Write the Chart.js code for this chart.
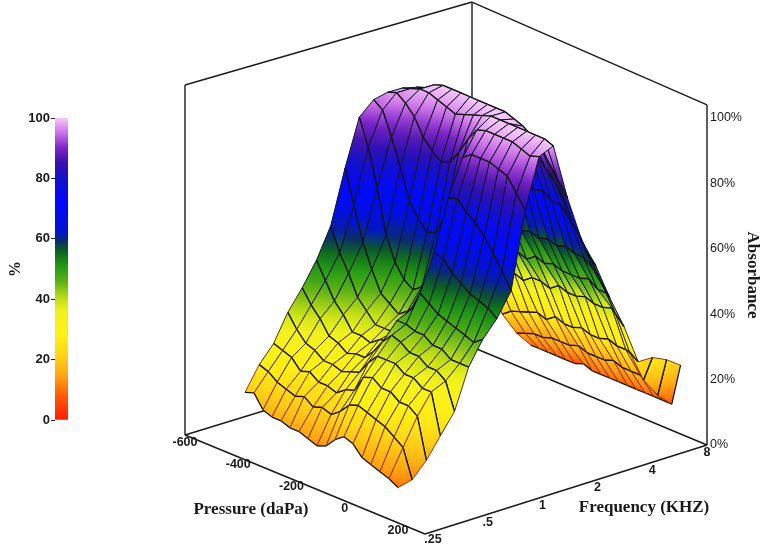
<!DOCTYPE html>
<html>
<head>
<meta charset="utf-8">
<style>
  body { margin: 0; background: #fff; }
  canvas { position: absolute; left: 0; top: 0; }
</style>
<script src="https://cdn.jsdelivr.net/npm/chart.js@4"></script>
</head>
<body>
<canvas id="surface" width="765" height="554"></canvas>
<canvas id="colorbar" width="90" height="554"></canvas>
<script>
// values
const pressureValues = [-400, -370, -340, -310, -280, -250, -220, -190, -160, -130, -100, -70, -40, -10, 20, 50, 80, 110];
const frequencyValues = [0.25, 0.297, 0.354, 0.42, 0.5, 0.595, 0.707, 0.841, 1, 1.19, 1.41, 1.68, 2, 2.38, 2.83, 3.36, 4, 4.76, 5.66, 6.73, 8];
// one row per pressure, one value per frequency (% absorbance)
const absorbanceRows = [
  [20, 27, 32, 40, 46, 53, 62, 78, 92, 96, 97, 97, 96, 92, 80, 62, 46, 32, 20, 13, 8],
  [21, 26, 31, 36, 42, 48, 55, 68, 84, 94, 98, 98, 97, 93, 78, 60, 47, 34, 22, 14, 8],
  [17, 24, 30, 33, 39, 43, 50, 58, 73, 87, 96, 99, 99, 93, 76, 58, 48, 35, 23, 15, 8],
  [16, 23, 27, 32, 35, 40, 44, 51, 60, 79, 93, 99, 100, 93, 75, 59, 47, 37, 24, 15, 8],
  [16, 22, 28, 30, 34, 36, 41, 45, 53, 70, 88, 98, 100, 92, 74, 58, 48, 36, 25, 16, 8],
  [15, 23, 26, 30, 32, 36, 38, 43, 49, 66, 85, 97, 100, 92, 75, 57, 47, 38, 24, 16, 8],
  [15, 21, 26, 29, 33, 35, 38, 41, 47, 63, 83, 96, 100, 92, 74, 58, 46, 38, 26, 16, 9],
  [14, 22, 25, 30, 33, 37, 38, 43, 49, 64, 84, 97, 100, 93, 75, 57, 48, 37, 25, 17, 8],
  [13, 21, 27, 31, 36, 38, 42, 46, 54, 70, 88, 98, 100, 92, 74, 58, 47, 39, 25, 16, 8],
  [14, 23, 28, 35, 40, 45, 47, 53, 63, 78, 93, 99, 100, 92, 75, 57, 48, 38, 26, 16, 8],
  [17, 26, 33, 38, 43, 45, 53, 64, 79, 90, 97, 100, 100, 91, 74, 58, 47, 38, 25, 16, 8],
  [19, 27, 34, 38, 42, 44, 51, 63, 80, 92, 98, 100, 99, 90, 75, 57, 47, 39, 25, 17, 8],
  [18, 26, 32, 38, 40, 44, 49, 60, 77, 92, 98, 100, 98, 88, 73, 58, 47, 38, 26, 16, 8],
  [15, 25, 32, 36, 40, 42, 48, 58, 75, 92, 98, 100, 96, 85, 73, 57, 48, 38, 25, 16, 8],
  [14, 24, 30, 36, 38, 42, 47, 56, 72, 91, 98, 100, 94, 82, 70, 57, 46, 39, 25, 16, 8],
  [13, 22, 30, 34, 38, 40, 46, 55, 68, 90, 97, 100, 90, 78, 67, 55, 46, 36, 24, 15, 8],
  [12, 20, 28, 34, 36, 40, 45, 54, 64, 86, 96, 100, 86, 72, 62, 52, 41, 28, 18, 12, 8],
  [10.5, 11.5, 16, 22, 28, 40, 47, 52, 59, 82, 97, 99, 82, 68, 59, 48, 38, 26, 26, 24, 21]
];
const pressureTicks = [-600, -400, -200, 0, 200];
const frequencyTicks = [0.25, 0.5, 1, 2, 4, 8];
const frequencyTickLabels = ['.25', '.5', '1', '2', '4', '8'];
const absorbanceTicks = [0, 20, 40, 60, 80, 100];
const colorbarRange = [0, 100];
const colorLevels = [0, 8, 15, 22, 28, 36, 40, 46, 51, 56, 59, 62, 72, 80, 85, 90, 95, 100];
const colorValues = ['#ff1e00', '#ff5a08', '#ffa812', '#ffd818', '#fff014', '#f2f21e', '#c4e018', '#58b014', '#229a14', '#0a6020', '#0a3060', '#0414c8', '#0008ff', '#1410c8', '#3a10a8', '#7a22c8', '#cc70e8', '#f6c8f8'];

// box corners on the page: floor position and px per % of height
const FRONT = { x: 425, y: 534, h: 3.36 };
const LEFT = { x: 185, y: 435, h: 3.365 };
const RIGHT = { x: 707, y: 445, h: 3.27 };
const BACK = { x: 472, y: 347, h: 3.317 };
const BOX_TOP = 104;

function project(p, f, z) {
  const u = (200 - p) / 800;
  const t = Math.log2(f / 0.25) / 5;
  const mix = k => (1 - u) * (1 - t) * FRONT[k] + u * (1 - t) * LEFT[k] + (1 - u) * t * RIGHT[k] + u * t * BACK[k];
  return { x: mix('x'), y: mix('y') - mix('h') * z };
}

function colorAt(z) {
  let i = 0;
  while (i < colorLevels.length - 2 && z > colorLevels[i + 1]) i++;
  const k = Math.min(1, Math.max(0, (z - colorLevels[i]) / (colorLevels[i + 1] - colorLevels[i])));
  const a = colorValues[i], b = colorValues[i + 1];
  const ch = (s, n) => parseInt(s.substr(1 + n * 2, 2), 16);
  const c = [0, 1, 2].map(n => Math.round(ch(a, n) + (ch(b, n) - ch(a, n)) * k));
  return `rgb(${c[0]},${c[1]},${c[2]})`;
}

function gradientFor(chart, from, to) {
  // from / to: {pt, z}, lowest and highest corner of the cell
  const { x, y } = chart.scales;
  const g = chart.ctx.createLinearGradient(
    x.getPixelForValue(from.pt.x), y.getPixelForValue(from.pt.y),
    x.getPixelForValue(to.pt.x), y.getPixelForValue(to.pt.y));
  for (let k = 0; k <= 4; k++) g.addColorStop(k / 4, colorAt(from.z + (to.z - from.z) * k / 4));
  return g;
}

const layers = [];

function boxLine(a, b, width) {
  layers.push({ data: [a, b], borderColor: '#1c1c1c', borderWidth: width, fill: false });
}

const fMin = frequencyTicks[0], fMax = frequencyTicks[frequencyTicks.length - 1];
const pMin = pressureTicks[0], pMax = pressureTicks[pressureTicks.length - 1];

// far side of the box goes under the surface
boxLine(project(pMin, fMin, 0), project(pMin, fMin, BOX_TOP), 1.4);
boxLine(project(pMin, fMax, 0), project(pMin, fMax, BOX_TOP), 1.4);
boxLine(project(pMax, fMax, 0), project(pMax, fMax, BOX_TOP), 1.4);
boxLine(project(pMin, fMin, BOX_TOP), project(pMin, fMax, BOX_TOP), 1.4);
boxLine(project(pMin, fMax, BOX_TOP), project(pMax, fMax, BOX_TOP), 1.4);
boxLine(project(pMin, fMin, 0), project(pMin, fMax, 0), 1.4);
boxLine(project(pMin, fMax, 0), project(pMax, fMax, 0), 1.4);

// surface cells, far to near
for (let i = 0; i < pressureValues.length - 1; i++) {
  for (let j = frequencyValues.length - 2; j >= 0; j--) {
    const corners = [[i, j], [i + 1, j], [i + 1, j + 1], [i, j + 1]].map(([a, b]) => ({
      pt: project(pressureValues[a], frequencyValues[b], absorbanceRows[a][b]),
      z: absorbanceRows[a][b]
    }));
    const pts = corners.map(c => c.pt);
    const sorted = corners.slice().sort((a, b) => a.z - b.z);
    const low = sorted[0], high = sorted[3];
    layers.push({
      data: pts.concat([pts[0]]),
      fill: 'shape',
      borderWidth: 0,
      borderColor: 'rgba(0,0,0,0)',
      backgroundColor: ctx => (ctx.chart.chartArea ? gradientFor(ctx.chart, low, high) : colorAt(low.z))
    });
    const meanZ = (corners[0].z + corners[3].z + corners[1].z + corners[2].z) / 4;
    const sideColor = meanZ < 26 ? '#9c3208' : meanZ < 42 ? '#4a3208' : '#10142c';
    layers.push({
      data: pts.concat([pts[0]]),
      fill: false,
      borderColor: '#141414',
      borderWidth: 1,
      segment: {
        // edges 0 and 2 run along pressure, 1 and 3 along frequency
        borderColor: s => (s.p0DataIndex % 2 === 0 ? '#141414' : sideColor),
        borderWidth: s => (s.p0DataIndex % 2 === 0 ? 1.3 : 1)
      }
    });
  }
}

// near floor edges
boxLine(project(pMin, fMin, 0), project(pMax, fMin, 0), 1.6);
boxLine(project(pMax, fMin, 0), project(pMax, fMax, 0), 1.6);

const tickFont = '12.5px "Liberation Sans"';
const titleFont = 'bold 17px "Liberation Serif"';

const axisText = {
  id: 'axisText',
  afterDraw(chart) {
    const { ctx, scales: { x, y } } = chart;
    const put = (pt, dx, dy) => [x.getPixelForValue(pt.x) + dx, y.getPixelForValue(pt.y) + dy];
    ctx.save();
    ctx.fillStyle = '#1a1a1a';
    ctx.textBaseline = 'middle';
    ctx.textAlign = 'center';
    ctx.font = 'bold ' + tickFont;
    pressureTicks.forEach(p => {
      const k = (p - pMin) / (pMax - pMin);
      const [px, py] = put(project(p, fMin, 0), -27 * k, 8 - 11 * k);
      ctx.fillText(String(p), px, py);
    });
    frequencyTicks.forEach((f, i) => {
      const k = i / (frequencyTicks.length - 1);
      const [px, py] = put(project(pMax, f, 0), 8 - 8 * k, 6 + 2 * k);
      ctx.fillText(frequencyTickLabels[i], px, py);
    });
    ctx.font = tickFont;
    ctx.textAlign = 'left';
    absorbanceTicks.forEach(a => {
      const [px, py] = put(project(pMax, fMax, a), 3, 0);
      ctx.fillText(a + '%', px, py);
    });
    ctx.font = titleFont;
    ctx.textAlign = 'center';
    ctx.fillText('Pressure (daPa)', 251, 510);
    ctx.fillText('Frequency (KHZ)', 644, 508);
    ctx.translate(752, 275);
    ctx.rotate(Math.PI / 2);
    ctx.fillText('Absorbance', 0, 0);
    ctx.restore();
  }
};

new Chart(document.getElementById('surface'), {
  type: 'line',
  data: { datasets: layers.reverse() },
  options: {
    responsive: false,
    animation: false,
    events: [],
    layout: { padding: 0 },
    elements: { point: { radius: 0 }, line: { tension: 0, capBezierPoints: false } },
    plugins: { legend: { display: false }, tooltip: { enabled: false } },
    scales: {
      x: { type: 'linear', display: false, min: 0, max: 765 },
      y: { type: 'linear', display: false, min: 0, max: 554, reverse: true }
    }
  },
  plugins: [axisText]
});

new Chart(document.getElementById('colorbar'), {
  type: 'bar',
  data: {
    labels: ['%'],
    datasets: [{
      data: [colorbarRange],
      barPercentage: 1,
      categoryPercentage: 1,
      backgroundColor: ctx => {
        const { chart } = ctx;
        if (!chart.chartArea) return colorValues[0];
        const y = chart.scales.y;
        const g = chart.ctx.createLinearGradient(0, y.getPixelForValue(0), 0, y.getPixelForValue(100));
        colorLevels.forEach((lv, i) => g.addColorStop(lv / 100, colorValues[i]));
        return g;
      }
    }]
  },
  options: {
    responsive: false,
    animation: false,
    events: [],
    layout: { padding: { top: 118, bottom: 134, right: 22 } },
    plugins: { legend: { display: false }, tooltip: { enabled: false } },
    scales: {
      x: { display: false },
      y: {
        min: 0,
        max: 100,
        afterFit: s => { s.width = 55; },
        border: { display: false },
        grid: { drawOnChartArea: false, tickLength: 4, color: '#222' },
        ticks: { stepSize: 20, padding: 1, color: '#1a1a1a', font: { family: 'Liberation Sans', size: 13, weight: 'bold' } },
        title: { display: true, text: '%', color: '#1a1a1a', padding: { top: 6, bottom: 0 }, font: { family: 'Liberation Serif', size: 16, weight: 'bold' } }
      }
    }
  }
});
</script>
</body>
</html>
